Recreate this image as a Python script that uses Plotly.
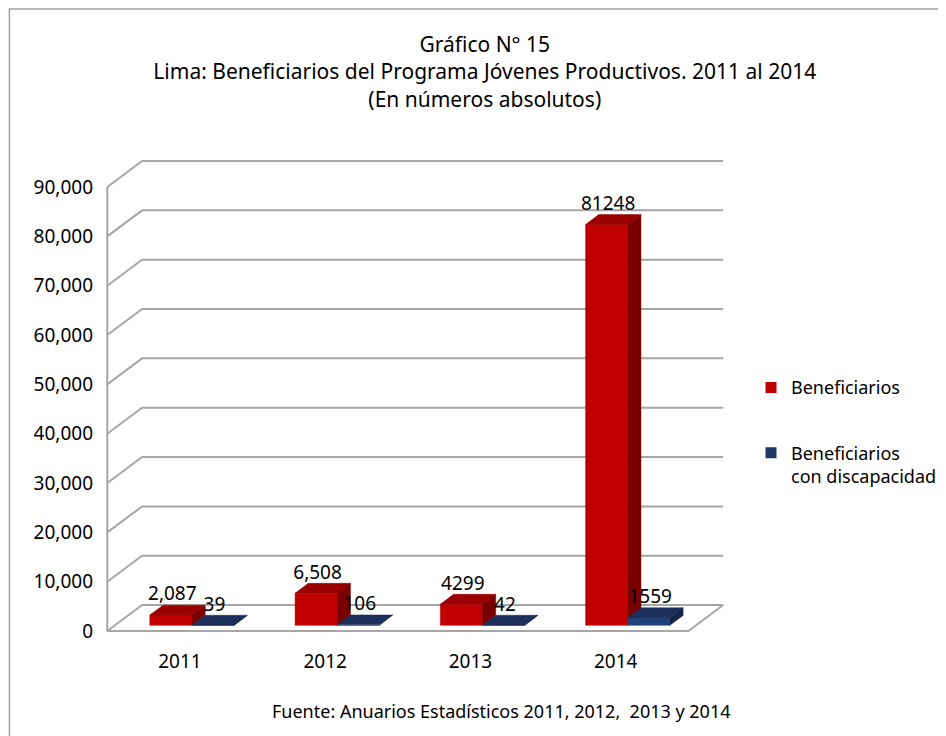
import plotly.graph_objects as go

# data
years = ['2011', '2012', '2013', '2014']
beneficiarios = [2087, 6508, 4299, 81248]
beneficiarios_disc = [39, 106, 42, 1559]
labels_benef = ['2,087', '6,508', '4299', '81248']
labels_disc = ['39', '106', '42', '1559']
y_ticks = [0, 10000, 20000, 30000, 40000, 50000, 60000, 70000, 80000, 90000]

FONT = 'Noto Sans'
GRID = '#A6A6A6'

# fake 3d geometry (depth offset of the chart walls, in axis units)
DX, DY = 0.24, 5270
D0, D1 = 0.22, 0.60     # front/back depth of the bars
BW = 0.29               # bar width
SHIFT = 0.03


def faces(values, offset):
    ''' front, top and side polygons of each bar, split with None '''
    front, top, side = ([], []), ([], []), ([], [])
    b0, b1 = D0 * DY, D1 * DY
    ddx = (D1 - D0) * DX
    for i, v in enumerate(values):
        xl = i + offset - BW / 2 + SHIFT + D0 * DX
        xr = xl + BW
        polys = [
            (front, [xl, xr, xr, xl, xl], [b0, b0, b0 + v, b0 + v, b0]),
            (top, [xl, xr, xr + ddx, xl + ddx, xl], [b0 + v, b0 + v, b1 + v, b1 + v, b0 + v]),
            (side, [xr, xr + ddx, xr + ddx, xr, xr], [b0, b1, b1 + v, b0 + v, b0]),
        ]
        for target, px, py in polys:
            target[0].extend(px + [None])
            target[1].extend(py + [None])
    return front, top, side


fig = go.Figure()

# back wall gridlines
gx, gy = [], []
for t in y_ticks:
    gx += [-0.5, -0.5 + DX, 3.5 + DX, None]
    gy += [t, t + DY, t + DY, None]
# left axis + floor
gx += [-0.5, -0.5, None, -0.5, 3.5, 3.5 + DX, None]
gy += [y_ticks[-1], 0, None, 0, 0, DY, None]
fig.add_trace(go.Scatter(x=gx, y=gy, mode='lines', line=dict(color=GRID, width=2),
                         hoverinfo='skip', showlegend=False))

series = [
    (beneficiarios, -BW / 2, ['#C00000', '#9A0000', '#7A0000']),
    (beneficiarios_disc, BW / 2, ['#22417A', '#1B2F5A', '#15254A']),
]
for values, offset, colors in series:
    for (fx, fy), col in zip(faces(values, offset), colors):
        fig.add_trace(go.Scatter(x=fx, y=fy, mode='lines', fill='toself', fillcolor=col,
                                 line=dict(color=col, width=0.5), hoverinfo='skip',
                                 showlegend=False))

# data labels
for values, offset, labels in [(beneficiarios, -BW / 2, labels_benef),
                               (beneficiarios_disc, BW / 2, labels_disc)]:
    fig.add_trace(go.Scatter(
        x=[i + offset + SHIFT + D0 * DX + 0.01 for i in range(len(values))],
        y=[v + D1 * DY for v in values],
        mode='text', text=labels, textposition='top center',
        textfont=dict(family=FONT, size=19, color='#000000'),
        hoverinfo='skip', showlegend=False, cliponaxis=False))

# legend entries
fig.add_trace(go.Scatter(x=[None], y=[None], mode='markers', name='Beneficiarios',
                         legendgroup='a',
                         marker=dict(symbol='square', size=11, color='#C00000')))
fig.add_trace(go.Scatter(x=[None], y=[None], mode='markers',
                         name='Beneficiarios<br>con discapacidad', legendgroup='b',
                         marker=dict(symbol='square', size=11, color='#1F3864')))

fig.update_layout(
    width=946, height=736,
    margin=dict(l=92, r=222, t=142, b=108),
    paper_bgcolor='white', plot_bgcolor='white',
    font=dict(family=FONT, size=16, color='#000000'),
    title=dict(text='Gráfico N° 15<br>Lima: Beneficiarios del Programa Jóvenes Productivos. 2011 al 2014'
                    '<br>(En números absolutos)',
               x=0.504, xanchor='center', y=0.94, yanchor='top',
               font=dict(family=FONT, size=21, color='#000000')),
    xaxis=dict(range=[-0.55, 3.78], tickvals=list(range(len(years))), ticktext=years,
               showgrid=False, zeroline=False, showline=False, ticks='',
               ticklabelstandoff=12, tickfont=dict(size=19), fixedrange=True),
    yaxis=dict(range=[-1000, 97500], tickvals=y_ticks, tickformat=',',
               showgrid=False, zeroline=False, showline=False, ticks='',
               ticklabelstandoff=6, tickfont=dict(size=19), fixedrange=True),
    legend=dict(x=1.035, y=0.549, xanchor='left', yanchor='top', tracegroupgap=39,
                valign='top', font=dict(size=18), bgcolor='rgba(0,0,0,0)'),
    annotations=[dict(text='Fuente: Anuarios Estadísticos 2011, 2012,\u00a0 2013 y 2014',
                      xref='paper', yref='paper', x=0.639, y=-0.155,
                      xanchor='center', yanchor='middle', showarrow=False,
                      font=dict(family=FONT, size=18, color='#000000'))],
    shapes=[dict(type='rect', xref='paper', yref='paper', x0=-0.144, x1=1.4, y0=-0.3, y1=1.290,
                 line=dict(color='#A0A0A0', width=1.5), fillcolor='rgba(0,0,0,0)', layer='below')],
)

fig.write_html('out.html')
